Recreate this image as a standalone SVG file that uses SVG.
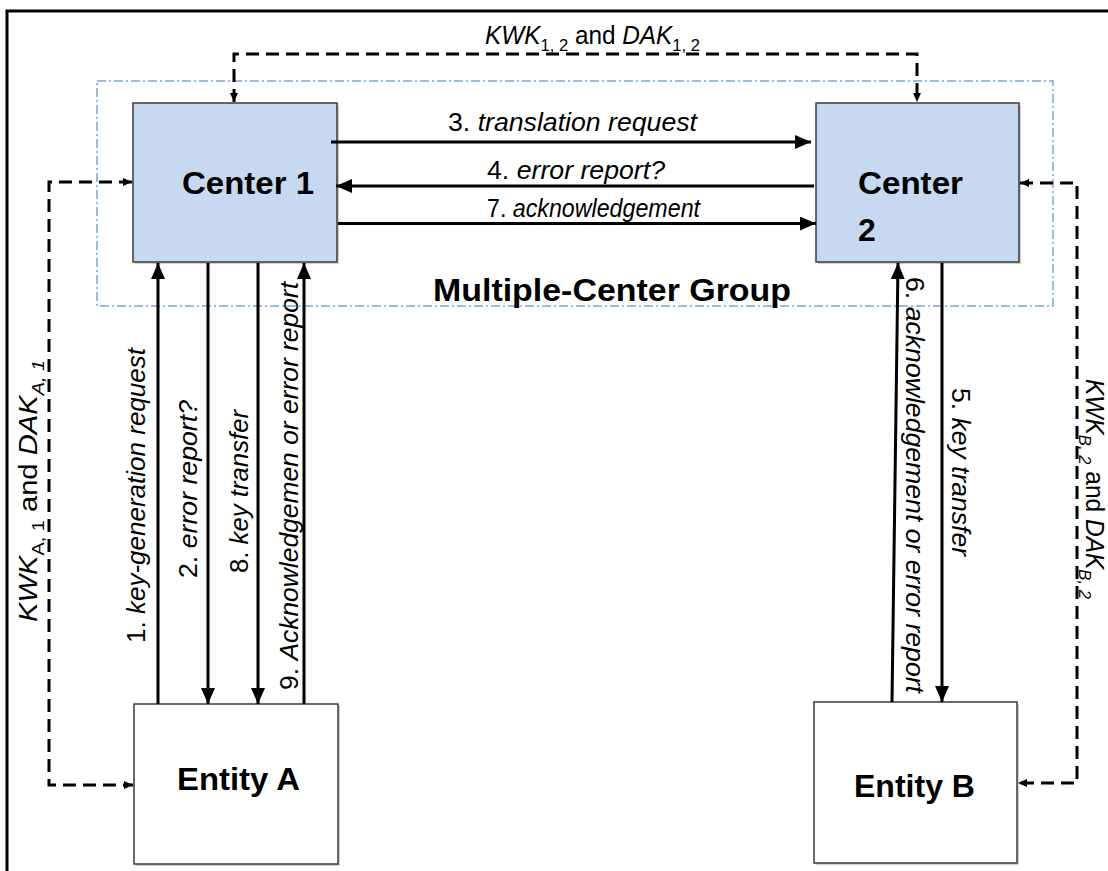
<svg xmlns="http://www.w3.org/2000/svg" width="1108" height="871" viewBox="0 0 1108 871">
<defs>
<style>
.box{stroke:#3a3a3a;stroke-width:1.5}
.center{fill:#c6d9f0}
.entity{fill:#ffffff}
.shadow{fill:#000;opacity:0.18}
.nodelbl{font-family:"Liberation Sans",Arial,sans-serif;font-weight:bold;font-size:32px;fill:#000}
.lbl{font-family:"Liberation Sans",Arial,sans-serif;font-size:26px;fill:#000}
.hl{font-size:25px}
.klbl{font-family:"Liberation Sans",Arial,sans-serif;font-size:25px;fill:#000}
.it{font-style:italic}
.sub{font-size:17px}
.solid{fill:none;stroke:#000;stroke-width:3}
.dash{fill:none;stroke:#000;stroke-width:3;stroke-dasharray:13 7}
.grp{fill:none;stroke:#7fa3d0;stroke-width:1.5;stroke-dasharray:9 3 2 3}
</style>
<marker id="ah" markerUnits="userSpaceOnUse" viewBox="0 0 16 14" markerWidth="16" markerHeight="14" refX="16" refY="7" orient="auto-start-reverse">
<path d="M0,0 L16,7 L0,14 Z" fill="#000"/>
</marker>
<marker id="sh" markerUnits="userSpaceOnUse" viewBox="0 0 9 8" markerWidth="9" markerHeight="8" refX="9" refY="4" orient="auto-start-reverse">
<path d="M0,0 L9,4 L0,8 Z" fill="#000"/>
</marker>
</defs>
<rect width="1108" height="871" fill="#fff"/>
<path d="M7,871 V11 H1108" fill="none" stroke="#000" stroke-width="3"/>

<g id="multiple-center-group">
<rect class="grp" x="97" y="81" width="956" height="225"/>
<text class="nodelbl" x="433" y="301" textLength="358" lengthAdjust="spacingAndGlyphs">Multiple-Center Group</text>
</g>

<g id="center1">
<rect class="shadow" x="135" y="105" width="204" height="159"/>
<rect class="box center" x="133" y="103" width="204" height="159"/>
<text class="nodelbl" x="182" y="194" textLength="132" lengthAdjust="spacingAndGlyphs">Center 1</text>
</g>

<g id="center2">
<rect class="shadow" x="818" y="105" width="203" height="159"/>
<rect class="box center" x="816" y="103" width="203" height="159"/>
<text class="nodelbl" x="858" y="194" textLength="105" lengthAdjust="spacingAndGlyphs">Center</text>
<text class="nodelbl" x="858" y="241">2</text>
</g>

<g id="entityA">
<rect class="shadow" x="136" y="706" width="204" height="160"/>
<rect class="box entity" x="134" y="704" width="204" height="160"/>
<text class="nodelbl" x="177" y="790" textLength="123" lengthAdjust="spacingAndGlyphs">Entity A</text>
</g>

<g id="entityB">
<rect class="shadow" x="816" y="704" width="203" height="161"/>
<rect class="box entity" x="814" y="702" width="203" height="161"/>
<text class="nodelbl" x="854" y="797" textLength="121" lengthAdjust="spacingAndGlyphs">Entity B</text>
</g>

<g id="connectors">
<path class="dash" d="M234,102 V54 H917 V102" marker-start="url(#sh)" marker-end="url(#sh)"/>
<path class="dash" d="M132,182 H49 V785 H133" marker-start="url(#sh)" marker-end="url(#sh)"/>
<path class="dash" d="M1020,183 H1077 V783 H1018" marker-start="url(#sh)" marker-end="url(#sh)"/>

<path class="solid" d="M331,142 H811" marker-end="url(#ah)"/>
<path class="solid" d="M814,186 H336" marker-end="url(#ah)"/>
<path class="solid" d="M338,223.5 H816" marker-end="url(#ah)"/>

<path class="solid" d="M158,704 V263" marker-end="url(#ah)"/>
<path class="solid" d="M208,263 V704" marker-end="url(#ah)"/>
<path class="solid" d="M258,263 V704" marker-end="url(#ah)"/>
<path class="solid" d="M304,704 V263" marker-end="url(#ah)"/>

<path class="solid" d="M892,702 L898,263" marker-end="url(#ah)"/>
<path class="solid" d="M942,263 V702" marker-end="url(#ah)"/>

<text class="klbl" x="592.5" y="44" text-anchor="middle" textLength="215" lengthAdjust="spacingAndGlyphs"><tspan class="it">KWK</tspan><tspan class="sub" dy="7">1, 2</tspan><tspan dy="-7"> and </tspan><tspan class="it">DAK</tspan><tspan class="sub" dy="7">1, 2</tspan></text>

<text class="lbl" x="448" y="131" textLength="249" lengthAdjust="spacingAndGlyphs">3. <tspan class="it">translation request</tspan></text>
<text class="lbl hl" x="487" y="179" textLength="178" lengthAdjust="spacingAndGlyphs">4. <tspan class="it">error report?</tspan></text>
<text class="lbl hl" x="487" y="217" textLength="213" lengthAdjust="spacingAndGlyphs">7. <tspan class="it">acknowledgement</tspan></text>

<text class="lbl" transform="translate(145,495.5) rotate(-90)" text-anchor="middle" textLength="295" lengthAdjust="spacingAndGlyphs">1. <tspan class="it">key-generation request</tspan></text>
<text class="lbl" transform="translate(197,489) rotate(-90)" text-anchor="middle" textLength="178" lengthAdjust="spacingAndGlyphs">2. <tspan class="it">error report?</tspan></text>
<text class="lbl" transform="translate(248,491.5) rotate(-90)" text-anchor="middle" textLength="163" lengthAdjust="spacingAndGlyphs">8. <tspan class="it">key transfer</tspan></text>
<text class="lbl" transform="translate(298,486) rotate(-90)" text-anchor="middle" textLength="408" lengthAdjust="spacingAndGlyphs">9. <tspan class="it">Acknowledgemen or error report</tspan></text>

<text class="lbl" transform="translate(906,485) rotate(90)" text-anchor="middle" textLength="416" lengthAdjust="spacingAndGlyphs">6. <tspan class="it">acknowledgement or error report</tspan></text>
<text class="lbl" transform="translate(952,472) rotate(90)" text-anchor="middle" textLength="168" lengthAdjust="spacingAndGlyphs">5. <tspan class="it">key transfer</tspan></text>

<text class="klbl" transform="translate(37,491) rotate(-90)" text-anchor="middle" textLength="262" lengthAdjust="spacingAndGlyphs"><tspan class="it">KWK</tspan><tspan class="sub" dy="7">A, 1</tspan><tspan dy="-7"> and </tspan><tspan class="it">DAK</tspan><tspan class="sub it" dy="7">A, 1</tspan></text>
<text class="klbl" transform="translate(1086,489) rotate(90)" text-anchor="middle" textLength="220" lengthAdjust="spacingAndGlyphs" font-size="24"><tspan class="it">KWK</tspan><tspan class="sub it" dy="7">B, 2</tspan><tspan dy="-7"> and </tspan><tspan class="it">DAK</tspan><tspan class="sub it" dy="7">B, 2</tspan></text>
</g>
</svg>
